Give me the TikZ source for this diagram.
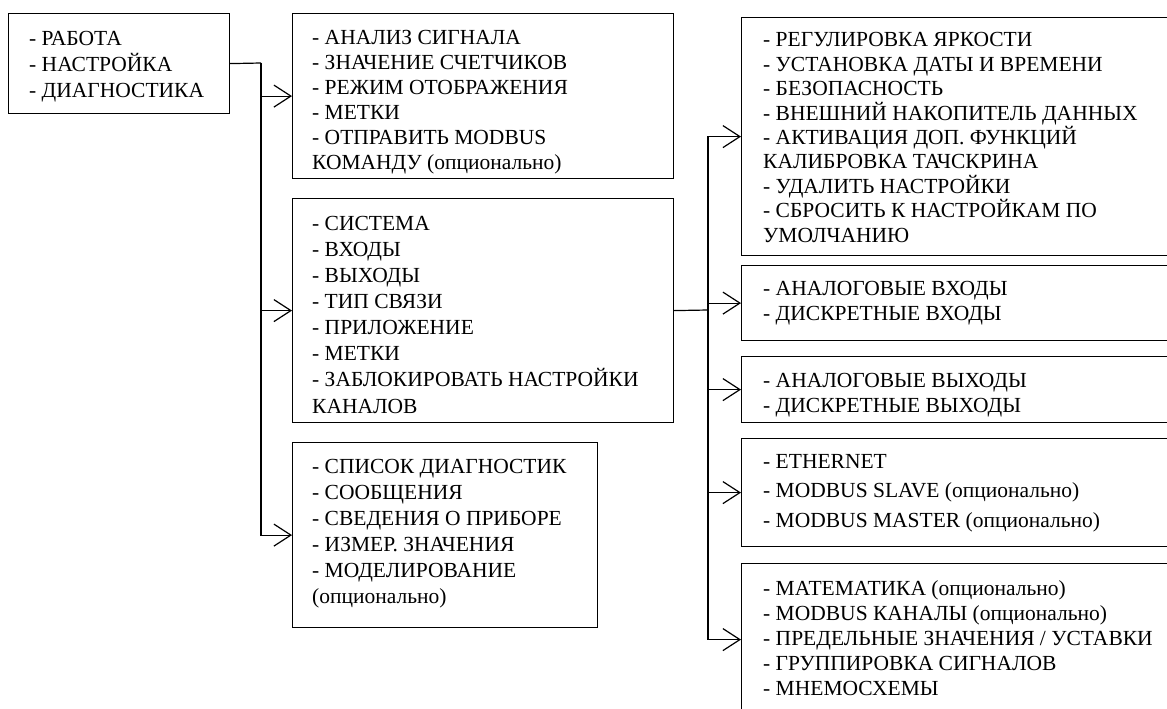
\documentclass[tikz,border=0pt]{standalone}
\usepackage{fontspec}
\setmainfont{Liberation Serif}
\usetikzlibrary{arrows.meta}

\tikzset{
  box/.style={draw, rectangle, anchor=north west, inner sep=0pt, line width=1.2pt},
  list/.style={font=\fontsize{21.5}{#1}\selectfont, align=left, inner sep=0pt, anchor=base west},
  list/.default=26,
  link/.style={line width=1.2pt, -{Straight Barb[length=17pt,width=22pt,line width=1.2pt]}}
}

\begin{document}
\begin{tikzpicture}[x=1pt, y=-1pt]
  \path[use as bounding box, clip] (0,0) rectangle (1167,709);

  % Boxes
  \node[box, minimum width=221pt, minimum height=100pt] (main) at (8,13) {};
  \node[box, minimum width=381pt, minimum height=165pt] (work) at (292,13) {};
  \node[box, minimum width=381pt, minimum height=224pt] (setup) at (292,198) {};
  \node[box, minimum width=305pt, minimum height=185pt] (diag) at (292,442) {};
  \node[box, minimum width=440pt, minimum height=238pt] (system) at (741,17) {};
  \node[box, minimum width=440pt, minimum height=75pt] (inputs) at (741,265) {};
  \node[box, minimum width=440pt, minimum height=66pt] (outputs) at (741,356) {};
  \node[box, minimum width=440pt, minimum height=108pt] (comm) at (741,438) {};
  \node[box, minimum width=440pt, minimum height=152pt] (app) at (741,563) {};

  % Texts (placed at the baseline of their last line)
  \node[list] (mainlist) at (29,97) {- РАБОТА\\- НАСТРОЙКА\\- ДИАГНОСТИКА};
  \begin{scope}
    \clip (work.north west) rectangle (work.south east);
    \node[list=25] (worklist) at (312,169) {- АНАЛИЗ СИГНАЛА\\- ЗНАЧЕНИЕ СЧЕТЧИКОВ\\- РЕЖИМ ОТОБРАЖЕНИЯ\\- МЕТКИ\\- ОТПРАВИТЬ MODBUS\\КОМАНДУ (опционально)};
  \end{scope}
  \begin{scope}
    \clip (setup.north west) rectangle (setup.south east);
    \node[list=26.1] (setuplist) at (312,413) {- СИСТЕМА\\- ВХОДЫ\\- ВЫХОДЫ\\- ТИП СВЯЗИ\\- ПРИЛОЖЕНИЕ\\- МЕТКИ\\- ЗАБЛОКИРОВАТЬ НАСТРОЙКИ\\КАНАЛОВ};
  \end{scope}
  \node[list] (diaglist) at (312,603) {- СПИСОК ДИАГНОСТИК\\- СООБЩЕНИЯ\\- СВЕДЕНИЯ О ПРИБОРЕ\\- ИЗМЕР. ЗНАЧЕНИЯ\\- МОДЕЛИРОВАНИЕ\\(опционально)};
  \node[list=24.4] (systemlist) at (763,242) {- РЕГУЛИРОВКА ЯРКОСТИ\\- УСТАНОВКА ДАТЫ И ВРЕМЕНИ\\- БЕЗОПАСНОСТЬ\\- ВНЕШНИЙ НАКОПИТЕЛЬ ДАННЫХ\\- АКТИВАЦИЯ ДОП. ФУНКЦИЙ\\КАЛИБРОВКА ТАЧСКРИНА\\- УДАЛИТЬ НАСТРОЙКИ\\- СБРОСИТЬ К НАСТРОЙКАМ ПО\\УМОЛЧАНИЮ};
  \node[list=25] (inputslist) at (763,320) {- АНАЛОГОВЫЕ ВХОДЫ\\- ДИСКРЕТНЫЕ ВХОДЫ};
  \node[list=25] (outputslist) at (763,412) {- АНАЛОГОВЫЕ ВЫХОДЫ\\- ДИСКРЕТНЫЕ ВЫХОДЫ};
  \node[list=29.5] (commlist) at (763,527) {- ETHERNET\\- MODBUS SLAVE (опционально)\\- MODBUS MASTER (опционально)};
  \node[list=25] (applist) at (763,695) {- МАТЕМАТИКА (опционально)\\- MODBUS КАНАЛЫ (опционально)\\- ПРЕДЕЛЬНЫЕ ЗНАЧЕНИЯ / УСТАВКИ\\- ГРУППИРОВКА СИГНАЛОВ\\- МНЕМОСХЕМЫ};

  % Edges
  \coordinate (lj) at (261,63);
  \coordinate (rj) at (708,310);
  \draw[line width=1.2pt] (main.east) -- (lj);
  \draw[link] (lj) |- (work.west);
  \draw[link] (lj) |- (setup.west);
  \draw[link] (lj) |- (diag.west);
  \draw[line width=1.2pt] (setup.east) -- (rj);
  \draw[link] (rj) |- (system.west);
  \draw[link] (rj) |- (inputs.west);
  \draw[link] (rj) |- (outputs.west);
  \draw[link] (rj) |- (comm.west);
  \draw[link] (rj) |- (app.west);
\end{tikzpicture}
\end{document}
